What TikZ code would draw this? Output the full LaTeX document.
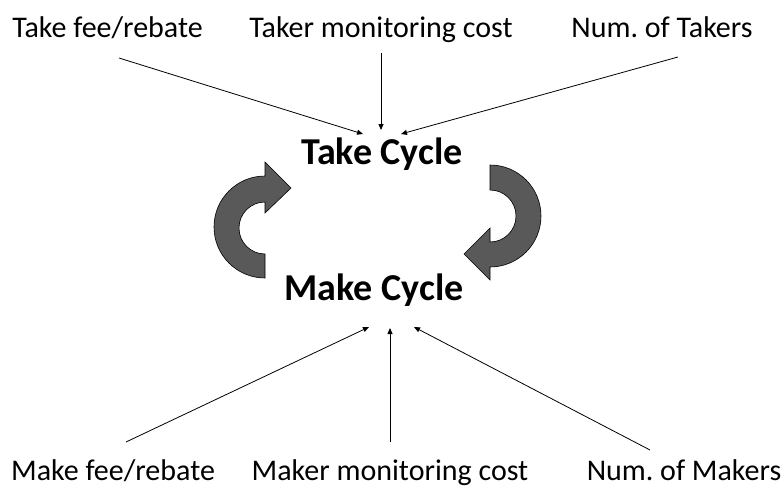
\documentclass[tikz,border=0pt]{standalone}
\usepackage{fontspec}
\setmainfont{Carlito}
\usetikzlibrary{arrows.meta}
\definecolor{cyclegray}{RGB}{89,89,89}
\frenchspacing
\tikzset{
  lbl/.style={anchor=base, inner sep=0pt, font=\fontsize{30}{32}\selectfont},
  cyc/.style={anchor=base, inner sep=0pt, font=\fontsize{38}{42}\selectfont\bfseries},
  feed/.style={draw=black, line width=0.8pt, -{Triangle[length=6pt,width=5pt]}},
  bigarrow/.style={fill=cyclegray, draw=black, line width=0.6pt, line join=miter}
}
\begin{document}
\begin{tikzpicture}[x=1pt,y=-1pt]
\useasboundingbox (0,0) rectangle (784,487);
% labels
\node[lbl] (tfee) at (107.5,37.5) {Take fee/rebate};
\node[lbl] (tmon) at (381,37.5) {Taker monitoring cost};
\node[lbl] (tnum) at (662,37.5) {Num. of Takers};
\node[lbl] (mfee) at (113,480) {Make fee/rebate};
\node[lbl] (mmon) at (390,480) {Maker monitoring cost};
\node[lbl] (mnum) at (684,480) {Num. of Makers};
\node[cyc] (take) at (382,164) {Take Cycle};
\node[cyc] (make) at (374,300) {Make Cycle};
% connector ends
\coordinate (tfeeS) at (119,58);
\coordinate (tmonS) at (381,53);
\coordinate (tnumS) at (678,57);
\coordinate (takeA) at (363,134);
\coordinate (takeB) at (381,130);
\coordinate (takeC) at (401,134);
\coordinate (mfeeS) at (126,442);
\coordinate (mmonS) at (390,442);
\coordinate (mnumS) at (650,450);
\coordinate (makeA) at (369,327);
\coordinate (makeB) at (390,328);
\coordinate (makeC) at (414,327);
\draw[feed] (tfeeS) -- (takeA);
\draw[feed] (tmonS) -- (takeB);
\draw[feed] (tnumS) -- (takeC);
\draw[feed] (mfeeS) -- (makeA);
\draw[feed] (mmonS) -- (makeB);
\draw[feed] (mnumS) -- (makeC);
% left curved arrow (up)
\draw[bigarrow] (265,278) arc[start angle=90, end angle=270, radius=51]
  -- (265,162) -- (291,188) -- (265,213) -- (265,202)
  arc[start angle=270, end angle=90, radius=26] -- cycle;
% right curved arrow (down)
\draw[bigarrow] (490,165) arc[start angle=-90, end angle=90, radius=51]
  -- (490,280) -- (464,254) -- (490,228) -- (490,242)
  arc[start angle=90, end angle=-90, radius=26] -- cycle;
\end{tikzpicture}
\end{document}
